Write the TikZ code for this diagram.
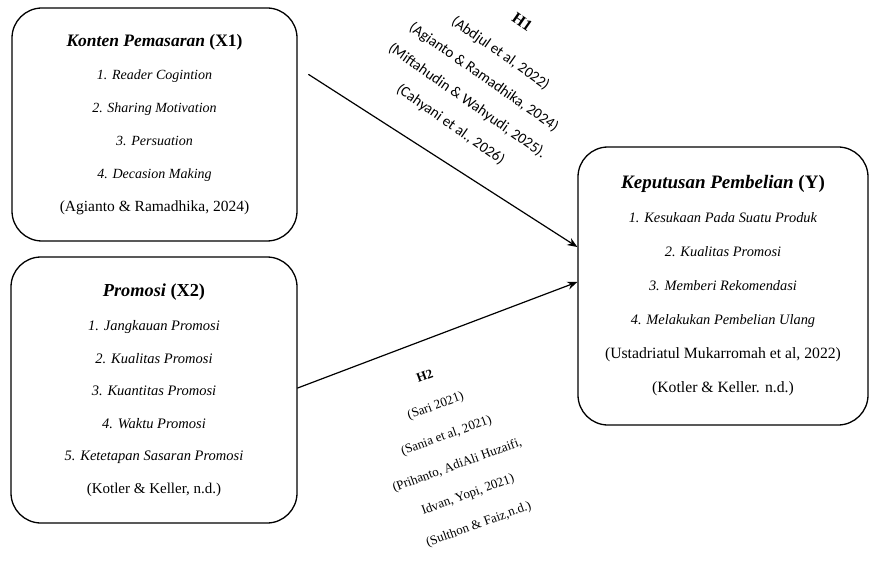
\documentclass[tikz,border=0pt]{standalone}
\usepackage{fontspec}
\setmainfont{Liberation Serif}
\newfontfamily\calibfont{Carlito}
\usetikzlibrary{arrows.meta}
\begin{document}
\begin{tikzpicture}[x=1pt,y=-1pt,line cap=round,line join=round,>={Stealth[length=10pt,width=8pt]},
	varbox/.style={draw,line width=1.3pt,rounded corners=30pt,inner sep=0pt,align=center},
	hyplabel/.style={align=center,inner sep=0pt}]
	\useasboundingbox (0,0) rectangle (872,561);
	\node[varbox,minimum width=285pt,minimum height=233pt,font=\fontsize{14}{33}\selectfont] (x1) at (154.5,124.5)
		{{\fontsize{17.5}{33}\selectfont\bfseries\itshape Konten Pemasaran \upshape(X1)}\\
		\textit{1. Reader Cogintion}\\ \textit{2. Sharing Motivation}\\ \textit{3. Persuation}\\
		\textit{4. Decasion Making}\\ {\fontsize{15.5}{33}\selectfont (Agianto \& Ramadhika, 2024)}};
	\node[varbox,minimum width=286pt,minimum height=266pt,font=\fontsize{14.5}{32.5}\selectfont] (x2) at (154,390)
		{{\fontsize{18.3}{32.5}\selectfont\bfseries\itshape Promosi \upshape(X2)}\\[2pt]
		\textit{1. Jangkauan Promosi}\\ \textit{2. Kualitas Promosi}\\ \textit{3. Kuantitas Promosi}\\
		\textit{4. Waktu Promosi}\\ \textit{5. Ketetapan Sasaran Promosi}\\
		{\fontsize{15}{32.5}\selectfont (Kotler \& Keller, n.d.)}};
	\node[varbox,minimum width=290pt,minimum height=278pt,font=\fontsize{14.4}{34}\selectfont] (y) at (723,286)
		{{\fontsize{19}{34}\selectfont\bfseries\itshape Keputusan Pembelian \upshape(Y)}\\
		\textit{1. Kesukaan Pada Suatu Produk}\\ \textit{2. Kualitas Promosi}\\ \textit{3. Memberi Rekomendasi}\\
		\textit{4. Melakukan Pembelian Ulang}\\ {\fontsize{15.7}{34}\selectfont (Ustadriatul Mukarromah et al, 2022)}\\
		{\fontsize{15.7}{34}\selectfont (Kotler \& Keller. n.d.)}};
	\draw[->,line width=1.2pt] ([xshift=11pt,yshift=50pt]x1.east) -- ([yshift=39pt]y.west);
	\draw[->,line width=1.2pt] ([yshift=2pt]x2.east) -- ([yshift=4pt]y.west);
	\node[hyplabel,rotate=-35,font=\calibfont\fontsize{15}{29}\selectfont] (h1) at (486,74)
		{{\rmfamily\bfseries\fontsize{16}{29}\selectfont H1}\\[8pt] (Abdjul et al, 2022)\\ (Agianto \& Ramadhika, 2024)\\
		(Miftahudin \& Wahyudi, 2025).\\ (Cahyani et al., 2026)};
	\node[hyplabel,rotate=20,font=\fontsize{13}{31.5}\selectfont] (h2) at (452,451)
		{\textbf{H2}\\ (Sari 2021)\\ (Sania et al, 2021)\\ (Prihanto, AdiAli Huzaifi,\\
		Idvan, Yopi, 2021)\\ (Sulthon \& Faiz,n.d.)};
\end{tikzpicture}
\end{document}
